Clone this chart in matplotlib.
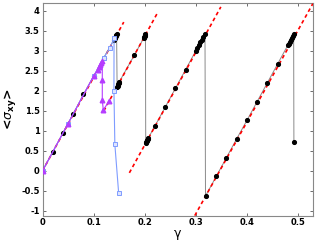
import numpy as np
import matplotlib
matplotlib.use("Agg")
import matplotlib.pyplot as plt

# black run: stress vs strain, with the dense clusters before each drop
black_x = [0, 0.02, 0.04, 0.06, 0.08, 0.10, 0.12,
           0.140, 0.141, 0.142, 0.143, 0.144, 0.145,
           0.146, 0.147, 0.148, 0.149, 0.150,
           0.18,
           0.198, 0.199, 0.200, 0.201, 0.2015,
           0.202, 0.203, 0.204, 0.205, 0.206, 0.207,
           0.22, 0.24, 0.26, 0.28,
           0.300, 0.303, 0.306, 0.309, 0.312, 0.315, 0.318,
           0.319, 0.34, 0.36, 0.38, 0.40, 0.42, 0.44, 0.46,
           0.480, 0.482, 0.484, 0.486, 0.488, 0.490, 0.4915,
           0.492]
black_y = [0, 0.47, 0.95, 1.42, 1.91, 2.36, 2.83,
           3.28, 3.31, 3.33, 3.36, 3.39, 3.42,
           2.10, 2.13, 2.16, 2.19, 2.22,
           2.90,
           3.32, 3.35, 3.37, 3.40, 3.42,
           0.70, 0.72, 0.75, 0.77, 0.80, 0.82,
           1.12, 1.59, 2.06, 2.53,
           3.00, 3.07, 3.14, 3.21, 3.28, 3.35, 3.42,
           -0.63, -0.14, 0.33, 0.80, 1.26, 1.73, 2.20, 2.67,
           3.14, 3.18, 3.23, 3.28, 3.32, 3.37, 3.42,
           0.72]

# blue run (open squares)
blue_x = [0, 0.05, 0.10, 0.12, 0.132, 0.140, 0.1398, 0.1416, 0.149]
blue_y = [0, 1.18, 2.37, 2.83, 3.08, 3.31, 2.00, 0.66, -0.55]

# purple run (triangles)
purple_x = [0, 0.05, 0.10, 0.108, 0.111, 0.113, 0.115, 0.117, 0.117, 0.117, 0.119, 0.130]
purple_y = [0, 1.18, 2.37, 2.53, 2.60, 2.65, 2.69, 2.74, 2.28, 1.77, 1.52, 1.74]

# red dashed elastic fits, start and end points
fit_x0 = [0.0, 0.12, 0.17, 0.298]
fit_y0 = [0.0, 1.50, -0.05, -1.12]
fit_x1 = [0.159, 0.225, 0.349, 0.529]
fit_y1 = [3.72, 3.95, 4.10, 4.18]

xticks = [0, 0.1, 0.2, 0.3, 0.4, 0.5]
xticklabels = ["0", "0.1", "0.2", "0.3", "0.4", "0.5"]
yticks = [-1, -0.5, 0, 0.5, 1, 1.5, 2, 2.5, 3, 3.5, 4]
yticklabels = ["-1", "-0.5", "0", "0.5", "1", "1.5", "2", "2.5", "3", "3.5", "4"]

fig = plt.figure(figsize=(3.16, 2.42), dpi=100)
ax = fig.add_axes([0.1345, 0.109, 0.857, 0.879])

for i in range(len(fit_x0)):
    ax.plot([fit_x0[i], fit_x1[i]], [fit_y0[i], fit_y1[i]], color="#ff0000",
            lw=1.2, dashes=(2.2, 1.8), zorder=3)

ax.plot(black_x, black_y, color="#8a8a8a", lw=0.7, zorder=2)
ax.plot(black_x, black_y, "o", color="black", ms=2.7, mec="black", zorder=4)

ax.plot(blue_x, blue_y, "-s", color="#7f9cff", lw=0.8, ms=3.2,
        mfc="#dde4ff", mec="#7f9cff", mew=0.7, zorder=5)
ax.plot(purple_x, purple_y, "-^", color="#b53cff", lw=0.8, ms=3.3,
        mfc="#b53cff", mec="#b53cff", zorder=6)

ax.set_xlim(0, 0.53)
ax.set_ylim(-1.12, 4.2)
ax.set_xticks(xticks)
ax.set_xticklabels(xticklabels)
ax.set_yticks(yticks)
ax.set_yticklabels(yticklabels)
ax.tick_params(direction="in", length=2.5, width=0.6, color="#555555",
               top=True, right=True, labelsize=6, pad=2)
for lab in ax.get_xticklabels() + ax.get_yticklabels():
    lab.set_fontweight("bold")
for sp in ax.spines.values():
    sp.set_color("#888888")
    sp.set_linewidth(0.8)

ax.set_xlabel("\u03b3", fontsize=9, labelpad=0)
ax.set_ylabel(r"<$\sigma_{\mathbf{xy}}$>", fontsize=9, fontweight="bold", labelpad=2)

fig.savefig("out.png", dpi=100)
